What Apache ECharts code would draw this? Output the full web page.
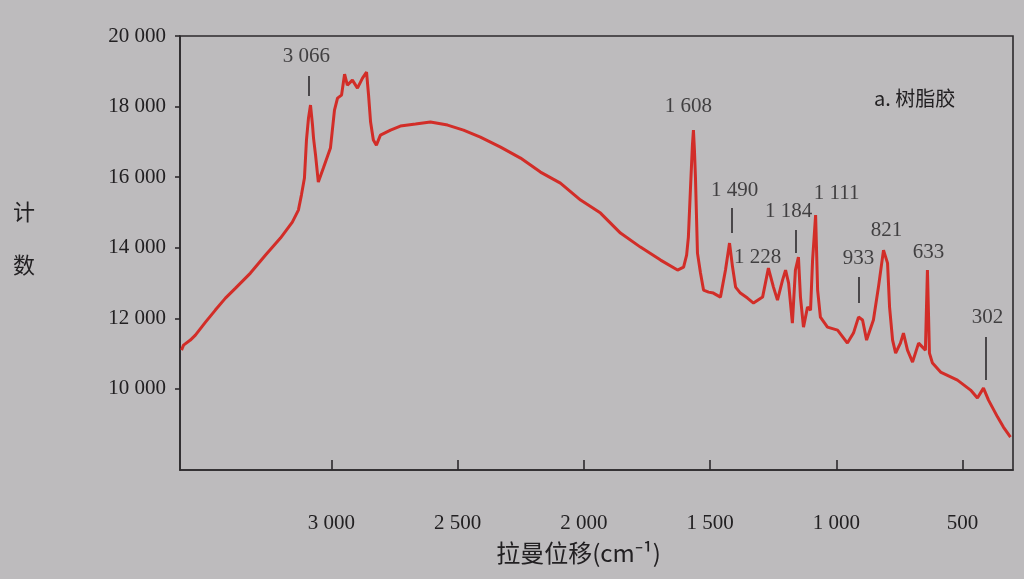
<!DOCTYPE html>
<html>
<head>
<meta charset="utf-8">
<script src="https://cdn.jsdelivr.net/npm/echarts@6/dist/echarts.min.js"></script>
<style>
html,body{margin:0;padding:0;background:#bdbbbd;}
#chart{width:1024px;height:579px;}
</style>
</head>
<body>
<div id="chart"></div>
<script>
// Raman shift (cm-1) and counts
const ramanShift = [3594,3586,3559,3539,3499,3460,3420,3380,3321,3261,3202,3155,3131,3119,3107,3099,3091,3083,3075,3071,3063,3052,3032,3004,2988,2976,2960,2948,2937,2917,2897,2877,2861,2853,2845,2834,2822,2806,2766,2727,2667,2608,2540,2477,2410,2330,2251,2172,2093,2013,1934,1855,1776,1696,1629,1605,1593,1586,1578,1570,1566,1562,1558,1550,1538,1526,1506,1487,1459,1439,1423,1411,1399,1380,1352,1328,1292,1269,1249,1233,1213,1201,1189,1174,1162,1150,1142,1130,1114,1102,1094,1082,1074,1063,1035,995,956,932,912,896,880,853,833,813,797,789,777,765,746,734,718,698,674,647,639,631,619,587,520,468,441,417,397,361,338,310];
const counts = [11098,11240,11382,11524,11892,12232,12572,12855,13281,13791,14272,14726,15066,15491,15973,17050,17673,18042,17475,17107,16625,15860,16256,16823,17900,18240,18325,18920,18608,18750,18523,18807,18977,18325,17560,17050,16908,17191,17333,17447,17503,17560,17475,17333,17135,16851,16540,16143,15831,15349,14981,14414,14017,13649,13366,13451,13791,14301,15633,16908,17333,16766,16001,13847,13281,12799,12742,12714,12600,13366,14131,13451,12884,12714,12572,12430,12600,13422,12884,12515,13082,13366,12997,11864,13366,13734,12600,11750,12317,12232,13649,14924,12799,12034,11750,11665,11297,11580,12034,11949,11382,11949,12884,13932,13564,12317,11382,11013,11297,11580,11098,10758,11297,11098,13366,11013,10730,10475,10248,9965,9738,10021,9681,9199,8916,8633];

// Peak annotations
const peakLabels = ['3 066','1 608','1 490','1 228','1 184','1 111','933','821','633','302'];
const peakLabelX = [3099,1586,1403,1312,1189,999,912,801,635,401];
const peakLabelY = [19430,18013,15633,13734,15027,15548,13706,14499,13876,12034];

// Short vertical marker lines above some peaks
const markerX  = [3091,1415,1162,912,409];
const markerY1 = [18864,15123,14499,13167,11467];
const markerY2 = [18297,14414,13847,12430,10248];

const xTicks = [3000,2500,2000,1500,1000,500];
const yTicks = [10000,12000,14000,16000,18000,20000];

const fmt = v => String(v).replace(/\B(?=(\d{3})+(?!\d))/g, ' ');

const serif = 'Liberation Serif';
const txt = '#222022';
const ink = '#2c2a2c';

const chart = echarts.init(document.getElementById('chart'));
chart.setOption({
  backgroundColor: '#bdbbbd',
  animation: false,
  title: {
    text: 'a. 树脂胶',
    left: 869, top: 83,
    textStyle: {fontFamily: 'Noto Sans CJK SC', fontSize: 20, fontWeight: 'normal', color: txt}
  },
  grid: {left: 180, top: 36, width: 833, height: 434, show: true, borderColor: ink, borderWidth: 1.6, backgroundColor: 'transparent'},
  xAxis: {
    type: 'value', inverse: true, min: 300, max: 3600,
    name: '拉曼位移(cm⁻¹)', nameLocation: 'middle', nameGap: 71,
    nameTextStyle: {fontFamily: 'Noto Sans CJK SC', fontSize: 24, color: txt, padding: [0, 36, 0, 0]},
    axisLine: {lineStyle: {color: ink, width: 1.6}},
    axisTick: {inside: true, length: 10, customValues: xTicks, lineStyle: {color: ink, width: 1.6}},
    axisLabel: {customValues: xTicks, formatter: fmt, margin: 43, fontFamily: serif, fontSize: 21, color: txt},
    splitLine: {show: false}
  },
  yAxis: {
    type: 'value', min: 7700, max: 20000,
    name: '{a|计}\n{a|数}\n{b|}', nameLocation: 'middle', nameGap: 145, nameRotate: 0,
    nameTextStyle: {
      fontFamily: 'Noto Sans CJK SC', fontSize: 22, color: txt,
      rich: {
        a: {fontFamily: 'Noto Sans CJK SC', fontSize: 22, color: txt, lineHeight: 53},
        b: {fontSize: 10, lineHeight: 30}
      }
    },
    axisLine: {lineStyle: {color: ink, width: 1.6}},
    axisTick: {inside: false, length: 5, customValues: yTicks, lineStyle: {color: ink, width: 1.6}},
    axisLabel: {customValues: yTicks, formatter: fmt, margin: 14, fontFamily: serif, fontSize: 21, color: txt},
    splitLine: {show: false}
  },
  series: [
    {
      type: 'line',
      data: ramanShift.map((x, i) => [x, counts[i]]),
      symbol: 'none',
      lineStyle: {color: '#d22d28', width: 3},
      z: 3,
      markLine: {
        silent: true, symbol: 'none',
        label: {show: false},
        lineStyle: {color: ink, type: 'solid', width: 1.6},
        data: markerX.map((x, i) => [{coord: [x, markerY1[i]]}, {coord: [x, markerY2[i]]}])
      }
    },
    {
      type: 'scatter',
      data: peakLabelX.map((x, i) => [x, peakLabelY[i], peakLabels[i]]),
      symbolSize: 0,
      silent: true,
      label: {
        show: true, position: 'inside',
        formatter: p => p.data[2],
        fontFamily: serif, fontSize: 21, color: txt
      }
    }
  ]
});
</script>
</body>
</html>
